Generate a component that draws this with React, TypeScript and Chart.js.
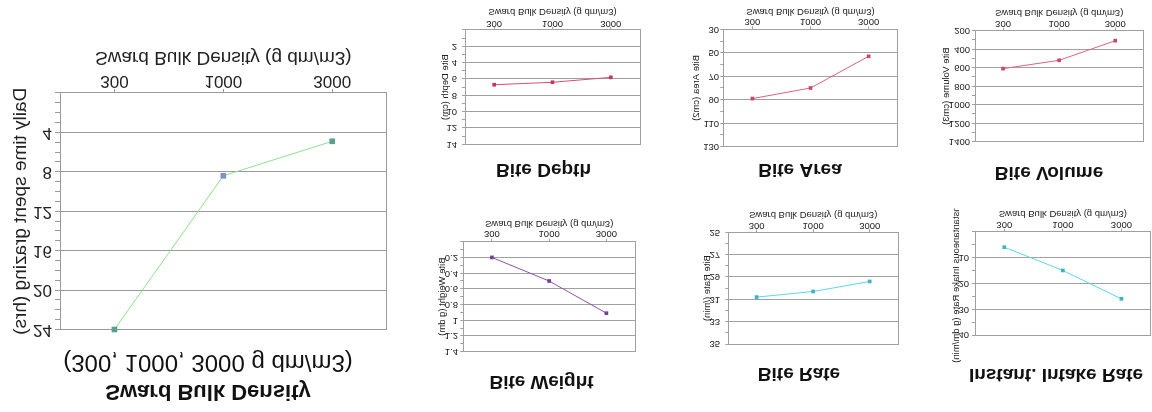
import React, { useEffect, useRef } from "react";
import { Chart, registerables } from "chart.js";

Chart.register(...registerables);

// ---------- data ----------
const densityLabels = ["300", "1000", "3000"];
const grazingHours = [24, 8.4, 4.9];
const biteDepth = [6.7, 6.4, 5.8];
const biteArea = [89, 80, 53];
const biteVolume = [610, 520, 308];
const biteWeight = [0.2, 0.5, 0.91];
const biteRate = [30.8, 30.3, 29.4];
const intakeRate = [6.0, 15.0, 26.0];

const xAxisTitle = "Sward Bulk Density (g dm/m3)";

const FONT = "'Liberation Sans', Arial, Helvetica, sans-serif";

interface Panel {
  title: string;
  subtitle?: string;
  yTitle: string;
  values: number[];
  yMin: number;
  yMax: number;
  yMajor: number;
  yMinor: number;
  lineColor: string;
  pointColors: string | string[];
  pointRadius: number;
  gridColor: string;
  // layout (page coordinates of the shown picture)
  plot: [number, number, number, number];
  titleCX: number;
  titleCY: number;
  subCY?: number;
  yTitleCX: number;
  xTitleCY: number;
  xTickCY: number;
  yTickRight: number;
  titleSize: number;
  subSize?: number;
  tickSize: number;
  axisTitleSize: number;
  xTickLen: number;
  yTickLen: number;
}

const smallStyle = {
  titleSize: 19,
  tickSize: 9.5,
  axisTitleSize: 9.5,
  xTickLen: 3,
  yTickLen: 3,
  pointRadius: 2.6,
  gridColor: "#a0a0a0",
};

const panels: Panel[] = [
  {
    title: "Sward Bulk Density",
    subtitle: "(300, 1000, 3000 g dm/m3)",
    yTitle: "Daily time spent grazing (hrs)",
    values: grazingHours,
    yMin: 0, yMax: 24, yMajor: 4, yMinor: 1,
    lineColor: "#8fe08f",
    pointColors: ["#5c9f8e", "#7d8fcc", "#5c9f8e"],
    pointRadius: 4,
    gridColor: "#9a9a9a",
    plot: [60, 93, 386.7, 329.5],
    titleCX: 208, titleCY: 391, subCY: 361.5,
    yTitleCX: 21, xTitleCY: 57, xTickCY: 80.5, yTickRight: 52,
    titleSize: 22, subSize: 24, tickSize: 17, axisTitleSize: 19,
    xTickLen: 4, yTickLen: 5,
  },
  {
    ...smallStyle,
    title: "Bite Depth", yTitle: "Bite Depth (cm)", values: biteDepth,
    yMin: 0, yMax: 14, yMajor: 2, yMinor: 1,
    lineColor: "#d9506e", pointColors: "#c23a5a",
    plot: [465, 30, 640, 144.3],
    titleCX: 543.5, titleCY: 170, yTitleCX: 445, xTitleCY: 12, xTickCY: 24, yTickRight: 457,
  },
  {
    ...smallStyle,
    title: "Bite Area", yTitle: "Bite Area (cm2)", values: biteArea,
    yMin: 30, yMax: 130, yMajor: 20, yMinor: 10,
    lineColor: "#e0607e", pointColors: "#c8486a",
    plot: [723.3, 29.3, 897.7, 146.7],
    titleCX: 800, titleCY: 169.5, yTitleCX: 696, xTitleCY: 12, xTickCY: 22, yTickRight: 719,
  },
  {
    ...smallStyle,
    title: "Bite Volume", yTitle: "Bite Volume (cm3)", values: biteVolume,
    yMin: 200, yMax: 1400, yMajor: 200, yMinor: 100,
    lineColor: "#e0607e", pointColors: "#c8486a",
    plot: [975, 30.7, 1143.3, 141.7],
    titleCX: 1049, titleCY: 173, yTitleCX: 946, xTitleCY: 13, xTickCY: 24, yTickRight: 970,
  },
  {
    ...smallStyle,
    title: "Bite Weight", yTitle: "Bite Weight (g dm)", values: biteWeight,
    yMin: 0, yMax: 1.4, yMajor: 0.2, yMinor: 0.1,
    lineColor: "#9050b0", pointColors: "#7a3c9c",
    plot: [463.3, 241.7, 635, 351.7],
    titleCX: 541.5, titleCY: 381.5, yTitleCX: 442.5, xTitleCY: 223.5, xTickCY: 234, yTickRight: 458,
  },
  {
    ...smallStyle,
    title: "Bite Rate", yTitle: "Bite Rate (/min)", values: biteRate,
    yMin: 25, yMax: 35, yMajor: 2, yMinor: 1,
    lineColor: "#5ad8e6", pointColors: "#3cb4c6",
    plot: [728.3, 232.3, 900, 344],
    titleCX: 799, titleCY: 373.5, yTitleCX: 707.5, xTitleCY: 215, xTickCY: 225.5, yTickRight: 720,
  },
  {
    ...smallStyle,
    title: "Instant. Intake Rate", yTitle: "Instantaneous Intake Rate (g dm/min)", values: intakeRate,
    yMin: 0, yMax: 40, yMajor: 10, yMinor: 5,
    lineColor: "#5ad8e6", pointColors: "#3cb4c6",
    plot: [975, 231.7, 1150.7, 335],
    titleCX: 1056, titleCY: 374.5, yTitleCX: 956, xTitleCY: 213.5, xTickCY: 224.5, yTickRight: 969,
  },
];

function geometry(p: Panel) {
  const [x0, y0, x1, y1] = p.plot;
  const lhT = p.titleSize * 1.2;
  const lhS = (p.subSize || 0) * 1.2;
  const lhA = p.axisTitleSize * 1.2;
  const lhK = p.tickSize * 1.2;
  const T = Math.round(p.xTitleCY - lhA / 2);
  const H = Math.round(p.titleCY + lhT / 2 - T);
  const bottom = T + H;
  let titlePadBottom: number;
  let subPadBottom = 0;
  if (p.subtitle && p.subCY !== undefined) {
    titlePadBottom = bottom - lhT - lhS / 2 - p.subCY;
    subPadBottom = p.subCY - lhS / 2 - y1;
  } else {
    titlePadBottom = bottom - lhT - y1;
  }
  const hx = y0 - T;
  const xTickPad = y0 - p.xTickCY - p.xTickLen - lhK / 2;
  const L0 = p.yTitleCX - lhA / 2;
  const W0 = 2 * (p.titleCX - L0);
  const extra = Math.max(0, x1 + 2 - (L0 + W0));
  const L = Math.floor(L0 - extra);
  const yTitlePad = p.yTitleCX - lhA / 2 - L;
  const W = Math.round(2 * (p.titleCX - L));
  const wy = x0 - L;
  const wr = L + W - x1;
  const yTickPad = x0 - p.yTickRight - p.yTickLen;
  return { T, H, L, W, titlePadBottom, subPadBottom, hx, xTickPad, yTitlePad, wy, wr, yTickPad };
}

const isMajor = (v: number, min: number, major: number) => {
  const r = (v - min) / major;
  return Math.abs(r - Math.round(r)) < 1e-6;
};

function PanelChart({ p }: { p: Panel }) {
  const ref = useRef<HTMLCanvasElement>(null);
  const g = geometry(p);

  useEffect(() => {
    if (!ref.current) return;
    const chart = new Chart(ref.current, {
      type: "line",
      data: {
        labels: densityLabels,
        datasets: [
          {
            data: p.values,
            borderColor: p.lineColor,
            borderWidth: 1,
            tension: 0,
            pointStyle: "rect",
            pointRadius: p.pointRadius,
            pointBackgroundColor: p.pointColors as any,
            pointBorderColor: p.pointColors as any,
            pointBorderWidth: 0,
            clip: false as any,
          },
        ],
      },
      options: {
        animation: false,
        responsive: false,
        events: [],
        layout: { padding: 0 },
        plugins: {
          legend: { display: false },
          tooltip: { enabled: false },
          title: {
            display: true,
            text: p.title,
            color: "#111",
            font: { family: FONT, size: p.titleSize, weight: "bold" },
            padding: { top: 0, bottom: g.titlePadBottom },
          },
          subtitle: {
            display: !!p.subtitle,
            text: p.subtitle || "",
            color: "#111",
            font: { family: FONT, size: p.subSize || 12, weight: "normal" },
            padding: { top: 0, bottom: g.subPadBottom },
          },
        },
        scales: {
          x: {
            type: "category",
            position: "bottom",
            offset: true,
            grid: {
              display: true,
              drawOnChartArea: false,
              drawTicks: true,
              tickLength: p.xTickLen,
              color: p.gridColor,
              offset: false,
            },
            border: { display: true, color: p.gridColor },
            ticks: {
              color: "#222",
              font: { family: FONT, size: p.tickSize },
              padding: g.xTickPad,
              maxRotation: 0,
              autoSkip: false,
            },
            title: {
              display: true,
              text: xAxisTitle,
              color: "#222",
              font: { family: FONT, size: p.axisTitleSize },
              padding: { top: 0, bottom: 0 },
            },
            afterFit: (s: any) => {
              s.height = g.hx;
            },
          },
          y: {
            type: "linear",
            position: "left",
            min: p.yMin,
            max: p.yMax,
            grid: {
              display: true,
              drawTicks: true,
              tickLength: p.yTickLen,
              color: (ctx: any) =>
                ctx.tick && isMajor(ctx.tick.value, p.yMin, p.yMajor) ? p.gridColor : "rgba(0,0,0,0)",
              tickColor: p.gridColor,
            },
            border: { display: true, color: p.gridColor },
            ticks: {
              stepSize: p.yMinor,
              autoSkip: false,
              color: "#222",
              font: { family: FONT, size: p.tickSize },
              padding: g.yTickPad,
              callback: (v: any) => {
                const n = Number(v);
                if (!isMajor(n, p.yMin, p.yMajor) || Math.abs(n) < 1e-9) return "";
                return String(+n.toFixed(3));
              },
            },
            title: {
              display: true,
              text: p.yTitle,
              color: "#222",
              font: { family: FONT, size: p.axisTitleSize },
              padding: { top: g.yTitlePad, bottom: 0 },
            },
            afterFit: (s: any) => {
              s.width = g.wy;
            },
          },
          frame: {
            type: "linear",
            position: "right",
            min: 0,
            max: 1,
            grid: { display: false, drawOnChartArea: false, drawTicks: false },
            border: { display: true, color: p.gridColor },
            ticks: { display: false },
            afterFit: (s: any) => {
              s.width = g.wr;
            },
          },
        },
      } as any,
    });
    return () => chart.destroy();
  }, []);

  return (
    <div
      style={{
        position: "absolute",
        left: g.L,
        top: g.T,
        width: g.W,
        height: g.H,
        transform: "scaleY(-1)",
      }}
    >
      <canvas ref={ref} width={g.W} height={g.H} style={{ display: "block", width: g.W, height: g.H }} />
    </div>
  );
}

export default function App() {
  return (
    <div
      style={{
        position: "absolute",
        left: 0,
        top: 0,
        width: 1152,
        height: 412,
        overflow: "hidden",
        background: "#ffffff",
      }}
    >
      {panels.map((p, i) => (
        <PanelChart key={i} p={p} />
      ))}
    </div>
  );
}
